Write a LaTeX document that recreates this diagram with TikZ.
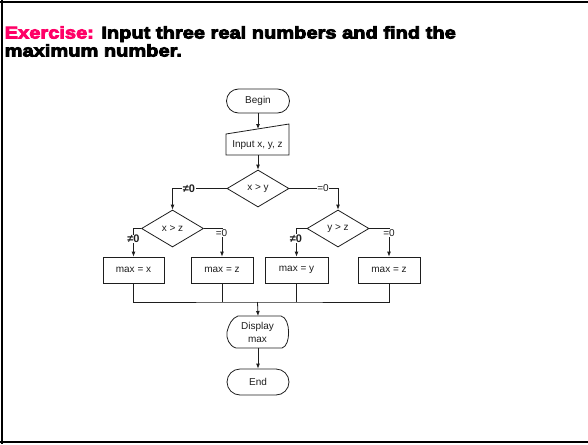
\documentclass[tikz,border=0pt]{standalone}
\usepackage{fontspec}
\setmainfont{Liberation Sans}
\newfontfamily\titlefont{Liberation Sans Bold}[FakeStretch=1.18, FakeBold=5]
\usetikzlibrary{shapes.geometric,arrows.meta}
\definecolor{hot}{RGB}{255,0,102}
\definecolor{ink}{RGB}{30,30,30}
\begin{document}
\begin{tikzpicture}[x=1pt,y=-1pt,
  every node/.style={font=\fontsize{10}{12}\selectfont, text=ink},
  line/.style={draw=ink, line width=0.8pt},
  arr/.style={line, -{Latex[length=5pt,width=4pt]}},
  term/.style={draw=ink, line width=0.8pt, rounded corners=12pt, minimum width=63pt, minimum height=24pt, inner sep=0pt},
  proc/.style={draw=ink, line width=0.8pt, minimum height=26pt, minimum width=62pt, inner sep=0pt},
  dec/.style={diamond, draw=ink, line width=0.8pt, minimum width=62pt, minimum height=37pt, inner sep=0pt},
  lbl/.style={fill=white, inner sep=0.6pt},
  nz/.style={lbl, font=\bfseries\fontsize{11}{12}\selectfont},
  ttl/.style={anchor=base west, inner sep=0pt, text=black, font=\titlefont\fontsize{17}{18}\selectfont},
]
\useasboundingbox (0,0) rectangle (588,444);
% frame
\draw[line width=2pt, black] (0,2) -- (588,2);
\draw[line width=2pt, black] (2,0) -- (2,444);
\draw[line width=2pt, black] (0,442.3) -- (588,442.3);
% title
\node[ttl] (t1) at (4.5,38.5) {\textcolor{hot}{Exercise:} Input three real numbers and find the};
\node[ttl] (t2) at (4.5,56.5) {maximum number.};
% nodes
\node[term] (begin) at (258,101) {Begin};
\node (input) at (257.5,145) {Input x, y, z};
\draw[line] (226,134) -- (289,124) -- (289,155) -- (226,155) -- cycle;
\coordinate (inTop) at (258,129);
\coordinate (inBot) at (258,155);
\node[dec] (d1) at (258,188.5) {x > y};
\node[dec] (d2) at (172.5,228.5) {x > z};
\node[dec] (d3) at (338,228.5) {y > z};
\node[proc, minimum width=61pt] (b1) at (133.5,270) {max = x};
\node[proc] (b2) at (222,270) {max = z};
\node[proc, minimum width=63pt] (b3) at (296.5,270) {max = y};
\node[proc] (b4) at (389,270) {max = z};
\node[align=center, font=\fontsize{10}{13}\selectfont] (disp) at (257.5,332) {Display\\max};
\draw[line] (238,316) -- (281,316) .. controls (291,318) and (291,346) .. (282,348) -- (236,348)
  .. controls (229,346) and (226,338) .. (227,332) .. controls (229,324) and (232,318) .. (238,316) -- cycle;
\coordinate (dispTop) at (258,316);
\coordinate (dispBot) at (258,348);
\node[term, minimum width=62pt, minimum height=26pt, rounded corners=13pt] (end) at (258,382) {End};
% connectors
\draw[arr] (begin) -- (inTop);
\draw[arr] (inBot) -- (d1);
\draw[arr] (d1.west) -| (d2.north);
\draw[arr] (d1.east) -| (d3.north);
\draw[arr] (d2.west) -| (b1.north);
\draw[arr] (d2.east) -| (b2.north);
\draw[arr] (d3.west) -| (b3.north);
\draw[arr] (d3.east) -| (b4.north);
\coordinate (jn) at (257.5,302);
\draw[line] (b1.south) |- (jn) -| (b4.south);
\draw[line] (b2.south) -- (b2.south |- jn);
\draw[line] (b3.south) -- (b3.south |- jn);
\draw[arr] (jn) -- (dispTop);
\draw[arr] (dispBot) -- (end);
% labels
\node[nz] (l1) at (189,188.5) {≠0};
\node[lbl] (l2) at (323,188.5) {=0};
\node[nz] (l3) at (133.5,239) {≠0};
\node[lbl] (l4) at (221.5,233) {=0};
\node[nz] (l5) at (296,238.5) {≠0};
\node[lbl] (l6) at (389,233) {=0};
\end{tikzpicture}
\end{document}
